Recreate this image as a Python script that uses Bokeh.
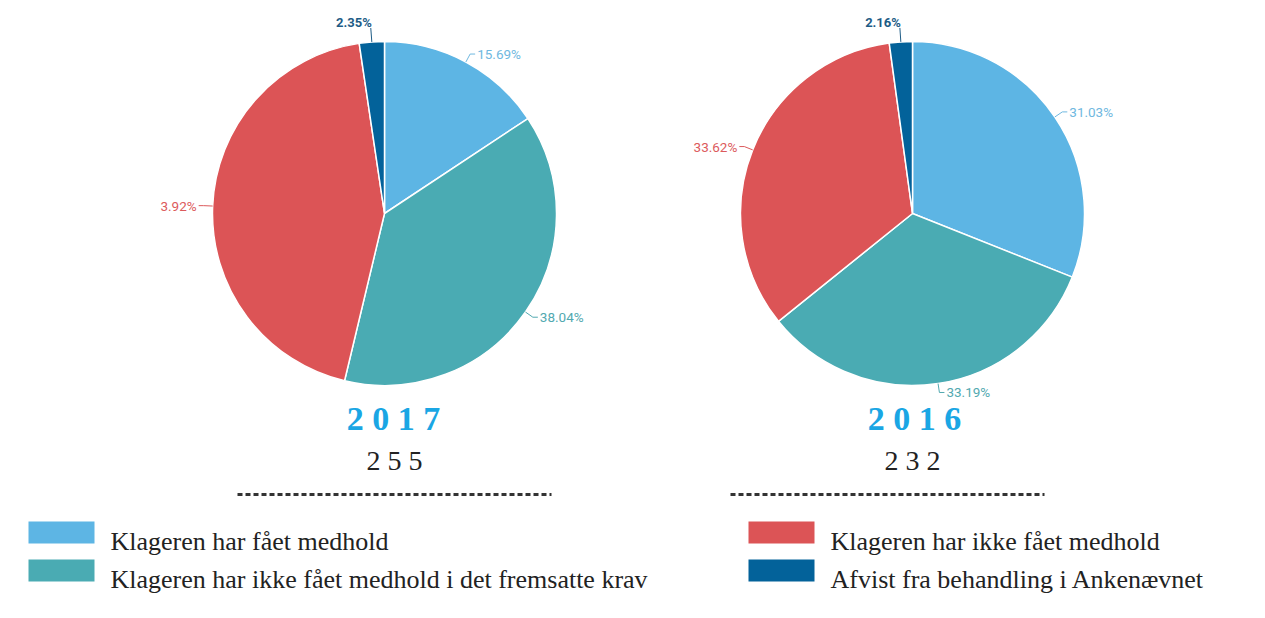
import math
from bokeh.plotting import figure
from bokeh.models import Range1d
from bokeh.core.properties import value
from bokeh.embed import file_html
from bokeh.resources import INLINE

# ---- data ----
categories = [
    "Klageren har fået medhold",
    "Klageren har ikke fået medhold i det fremsatte krav",
    "Klageren har ikke fået medhold",
    "Afvist fra behandling i Ankenævnet",
]
colors = ["#5DB5E4", "#4AABB3", "#DC5456", "#03629A"]
label_colors = ["#6FB8E0", "#52A9B0", "#DC5A5C", "#1E5C86"]
years = ["2 0 1 7", "2 0 1 6"]
totals = ["2 5 5", "2 3 2"]
shares_2017 = [15.69, 38.04, 43.92, 2.35]
labels_2017 = ["15.69%", "38.04%", "3.92%", "2.35%"]
shares_2016 = [31.03, 33.19, 33.62, 2.16]
labels_2016 = ["31.03%", "33.19%", "33.62%", "2.16%"]

W, H = 1249, 602
p = figure(width=W, height=H, x_range=Range1d(0, W), y_range=Range1d(-H, 0),
           output_backend="svg", toolbar_location=None, min_border=0)
p.axis.visible = False
p.grid.visible = False
p.outline_line_color = None
p.background_fill_color = "white"
p.border_fill_color = "white"

R = 172
label_font = value("Roboto")


def draw_pie(cx, cy, shares, labels):
    total = sum(shares)
    cum = 0.0
    starts, ends = [], []
    for s in shares:
        a0 = math.pi / 2 - cum / total * 2 * math.pi
        cum += s
        a1 = math.pi / 2 - cum / total * 2 * math.pi
        starts.append(a0)
        ends.append(a1)
    p.wedge(x=[cx] * len(shares), y=[-cy] * len(shares), radius=R,
            start_angle=starts, end_angle=ends, direction="clock",
            fill_color=colors, line_color="white", line_width=1.5)
    for i, (a0, a1) in enumerate(zip(starts, ends)):
        th = (a0 + a1) / 2
        c, s = math.cos(th), math.sin(th)
        ex, ey = cx + R * c, -cy + R * s
        if s > 0.95:
            ox, oy = cx + (R + 14) * c, -cy + (R + 14) * s
            p.segment(x0=[ex], y0=[ey], x1=[ox], y1=[oy], line_color=label_colors[i], line_width=1)
            p.text(x=[ox + 1], y=[oy - 2], text=[labels[i]], text_align="right",
                   text_baseline="bottom", text_font=label_font, text_font_size="13px",
                   text_font_style="bold", text_color=label_colors[i])
        else:
            ox, oy = cx + (R + 9) * c, -cy + (R + 9) * s
            hx = ox + (5 if c >= 0 else -5)
            p.line(x=[ex, ox, hx], y=[ey, oy, oy], line_color=label_colors[i], line_width=1)
            p.text(x=[hx + (2 if c >= 0 else -2)], y=[oy], text=[labels[i]],
                   text_align="left" if c >= 0 else "right", text_baseline="middle",
                   text_font=label_font, text_font_size="13.5px",
                   text_color=label_colors[i])


draw_pie(384, 213, shares_2017, labels_2017)
draw_pie(912, 213, shares_2016, labels_2016)

serif = value("Liberation Serif")
# Year captions, totals, dashed rules
p.text(x=[393, 914], y=[-418, -418], text=years, text_align="center", text_baseline="middle",
       text_font=serif, text_font_size="34px", text_font_style="bold", text_color="#1AA6E4")
p.text(x=[394, 912], y=[-460, -460], text=totals, text_align="center", text_baseline="middle",
       text_font=serif, text_font_size="28px", text_color="#222222")
p.segment(x0=[237, 730], y0=[-494, -494], x1=[551, 1044], y1=[-494, -494],
          line_color="#333333", line_width=3, line_dash="5 3")

# Legend
lx = [28, 748, 28, 748]
ly = [532, 570, 532, 570]
ly = [532, 532, 570, 570]
legend_order = [0, 2, 1, 3]
p.rect(x=[x + 33 for x in lx], y=[-y for y in ly], width=66, height=22,
       fill_color=[colors[i] for i in legend_order], line_color=None)
p.text(x=[x + 82 for x in lx], y=[-(y + 9) for y in ly],
       text=[categories[i] for i in legend_order], text_align="left", text_baseline="alphabetic",
       text_font=serif, text_font_size="26px", text_color="#222222")

open("out.html", "w").write(file_html(p, INLINE))
